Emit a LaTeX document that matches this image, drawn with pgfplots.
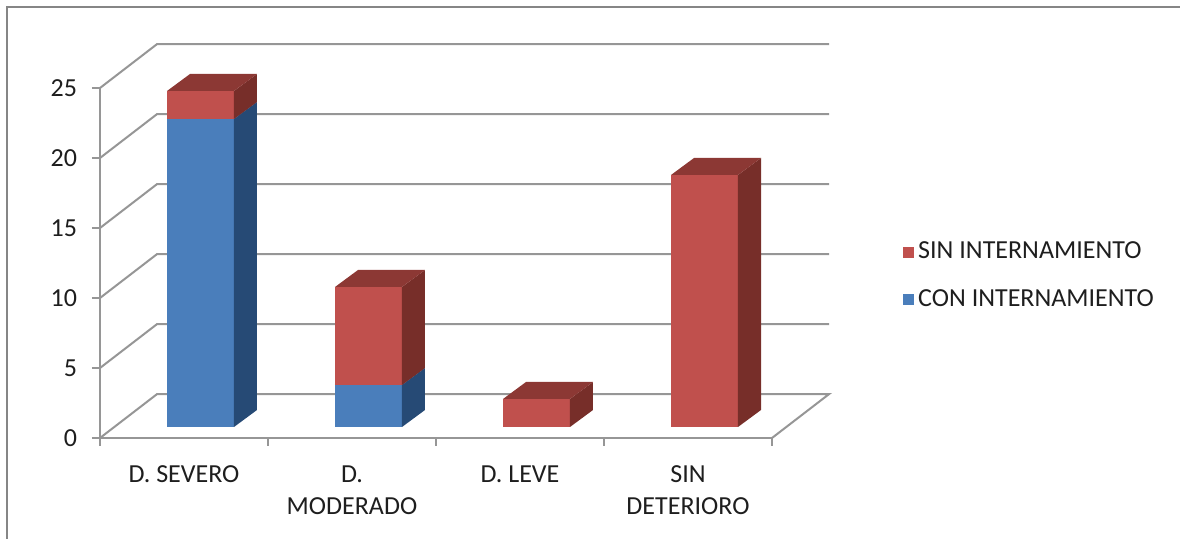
\documentclass[border=0pt]{standalone}
\usepackage{fontspec}
\setmainfont{Carlito}
\usepackage{pgfplots}
\usepackage{pgfplotstable}
\pgfplotsset{compat=1.18}

\definecolor{conF}{RGB}{74,126,187}
\definecolor{conS}{RGB}{38,74,117}
\definecolor{conT}{RGB}{52,97,150}
\definecolor{sinF}{RGB}{192,80,77}
\definecolor{sinS}{RGB}{119,46,41}
\definecolor{sinT}{RGB}{140,56,52}
\definecolor{gridc}{RGB}{150,150,150}
\definecolor{framec}{RGB}{134,134,134}
\definecolor{textc}{RGB}{30,30,30}

% patients by level of deterioration
\pgfplotstableread{
x    con  sin
0.5  22   2
1.5  3    7
2.5  0    2
3.5  0    18
}\datatable

% a 3D block whose front top edge sits at the plotted point;
% \val is the height of the block in data units (7pt per unit)
\newcommand\cuboid[3]{%
  \pgfmathsetmacro\cubh{7*\val}%
  \ifdim\cubh pt>0.01pt
    \pgfmathsetmacro\cubb{5.5-\cubh}%
    \pgfmathsetmacro\cubbb{14-\cubh}%
    \pgfsetfillcolor{#1}%
    \pgfpathrectanglecorners{\pgfpoint{-8.5pt}{\cubb pt}}{\pgfpoint{25pt}{5.5pt}}%
    \pgfusepath{fill}%
    \pgfsetfillcolor{#2}%
    \pgfpathmoveto{\pgfpoint{25pt}{\cubb pt}}%
    \pgfpathlineto{\pgfpoint{36.5pt}{\cubbb pt}}%
    \pgfpathlineto{\pgfpoint{36.5pt}{14pt}}%
    \pgfpathlineto{\pgfpoint{25pt}{5.5pt}}%
    \pgfpathclose
    \pgfusepath{fill}%
    \pgfsetfillcolor{#3}%
    \pgfpathmoveto{\pgfpoint{-8.5pt}{5.5pt}}%
    \pgfpathlineto{\pgfpoint{3pt}{14pt}}%
    \pgfpathlineto{\pgfpoint{36.5pt}{14pt}}%
    \pgfpathlineto{\pgfpoint{25pt}{5.5pt}}%
    \pgfpathclose
    \pgfusepath{fill}%
  \fi}
\pgfdeclareplotmark{cubecon}{\cuboid{conF}{conS}{conT}}
\pgfdeclareplotmark{cubesin}{\cuboid{sinF}{sinS}{sinT}}

\pgfplotsset{wall/.style={gridc, line width=1pt, no marks, forget plot}}

\begin{document}
\begin{tikzpicture}[font=\fontsize{13}{16}\selectfont]
\useasboundingbox (-50pt,-50.5pt) rectangle (540pt,219pt);
\draw[framec, line width=1pt] (-46.5pt,-60pt) -- (-46.5pt,215.5pt) -- (560pt,215.5pt);
\begin{axis}[
  at={(0pt,0pt)}, anchor=south west,
  x=84pt, y=7pt,
  xmin=0, xmax=4, ymin=0, ymax=25,
  axis lines=left, clip=false,
  axis line style={gridc, line width=1pt, -},
  tick style={gridc, line width=1pt},
  tick align=outside, major tick length=4pt,
  ytick={0,5,...,25},
  xtick={0,1,2,3,4}, xticklabels={},
  extra x ticks={0.5,1.5,2.5,3.5},
  extra x tick labels={D. SEVERO,{D.\\MODERADO},D. LEVE,{SIN\\DETERIORO}},
  extra x tick style={major tick length=0pt},
  xticklabel style={align=center, text=textc, anchor=north, yshift=-10.5pt},
  yticklabel style={text=textc, xshift=-4pt},
  /pgf/number format/assume math mode=true,
  legend style={draw=none, fill=none, at={(1.195,0.463)}, anchor=west,
    inner sep=0pt, row sep=10pt, text=textc,
    nodes={inner sep=2pt}},
  legend cell align=left,
  reverse legend,
]
% walls and floor
\addplot[wall] coordinates {(0,0) (0.34,3.14) (4.34,3.14) (4,0)};
\addplot[wall] coordinates {(0,5) (0.34,8.14) (4.34,8.14)};
\addplot[wall] coordinates {(0,10) (0.34,13.14) (4.34,13.14)};
\addplot[wall] coordinates {(0,15) (0.34,18.14) (4.34,18.14)};
\addplot[wall] coordinates {(0,20) (0.34,23.14) (4.34,23.14)};
\addplot[wall] coordinates {(0,25) (0.34,28.14) (4.34,28.14)};
% stacked blocks
\addplot[only marks, mark=cubecon, stack plots=y,
  visualization depends on={\thisrow{con}\as\val},
  legend image code/.code={\fill[conF] (0pt,-2.5pt) rectangle (5pt,2.5pt);}]
  table[x=x, y=con] {\datatable};
\addlegendentry{CON INTERNAMIENTO}
\addplot[only marks, mark=cubesin, stack plots=y,
  visualization depends on={\thisrow{sin}\as\val},
  legend image code/.code={\fill[sinF] (0pt,-2.5pt) rectangle (5pt,2.5pt);}]
  table[x=x, y=sin] {\datatable};
\addlegendentry{SIN INTERNAMIENTO}
\end{axis}
\end{tikzpicture}
\end{document}
